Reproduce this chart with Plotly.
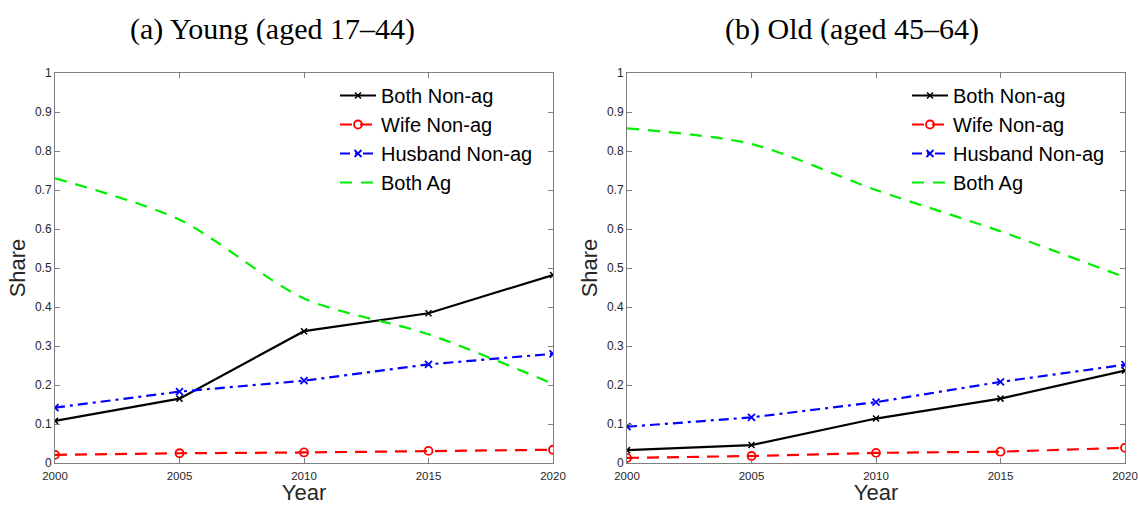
import plotly.graph_objects as go

years = [2000, 2005, 2010, 2015, 2020]

young_both_nonag = [0.108, 0.165, 0.338, 0.384, 0.482]
young_wife_nonag = [0.021, 0.025, 0.027, 0.031, 0.034]
young_husband_nonag = [0.142, 0.183, 0.211, 0.253, 0.280]
young_both_ag = [0.730, 0.624, 0.422, 0.330, 0.203]

old_both_nonag = [0.033, 0.046, 0.114, 0.165, 0.237]
old_wife_nonag = [0.013, 0.018, 0.026, 0.029, 0.039]
old_husband_nonag = [0.093, 0.117, 0.156, 0.208, 0.252]
old_both_ag = [0.858, 0.818, 0.700, 0.594, 0.476]

series_names = ["Both Non-ag", "Wife Non-ag", "Husband Non-ag", "Both Ag"]
y_ticks = [0, 0.1, 0.2, 0.3, 0.4, 0.5, 0.6, 0.7, 0.8, 0.9, 1]
y_ticktext = ["0", "0.1", "0.2", "0.3", "0.4", "0.5", "0.6", "0.7", "0.8", "0.9", "1"]
titles = ["(a) Young (aged 17\u201344)", "(b) Old (aged 45\u201364)"]

W, H = 1138, 505

styles = [
    dict(color="#000000", dash="solid", marker=dict(symbol="x-thin-open", size=6, line=dict(width=1.5, color="#000000")), shape="linear"),
    dict(color="#ff0000", dash="12px,8px", marker=dict(symbol="circle-open", size=8, line=dict(width=1.8, color="#ff0000")), shape="linear"),
    dict(color="#0000ff", dash="10px,5px,3px,5px", marker=dict(symbol="x-thin-open", size=7, line=dict(width=1.8, color="#0000ff")), shape="linear"),
    dict(color="#00ee00", dash="12px,9px", marker=None, shape="spline"),
]

fig = go.Figure()

panels = [
    (young_both_nonag, young_wife_nonag, young_husband_nonag, young_both_ag),
    (old_both_nonag, old_wife_nonag, old_husband_nonag, old_both_ag),
]

px_left = [55, 627]
px_right = [553, 1125]
px_top, px_bottom = 73, 463

for p, data in enumerate(panels):
    xa = "x" if p == 0 else "x2"
    ya = "y" if p == 0 else "y2"
    leg = "legend" if p == 0 else "legend2"
    for i, (name, vals) in enumerate(zip(series_names, data)):
        st = styles[i]
        kw = {}
        if st["marker"] is not None:
            mode = "lines+markers"
            kw["marker"] = st["marker"]
        else:
            mode = "lines"
        fig.add_trace(go.Scatter(
            x=years, y=vals, name=name, mode=mode,
            line=dict(color=st["color"], width=2.2, dash=st["dash"], shape=st["shape"], smoothing=0.8),
            xaxis=xa, yaxis=ya, legend=leg, **kw,
        ))

axis_common = dict(
    showline=True, linecolor="#7f7f7f", linewidth=1, mirror="ticks",
    ticks="inside", ticklen=5, tickcolor="#7f7f7f", showgrid=False, zeroline=False,
    automargin=False,
)

y_dom = [1 - px_bottom / H, 1 - px_top / H]
layout = dict(
    width=W, height=H,
    margin=dict(l=0, r=0, t=0, b=0, autoexpand=False),
    plot_bgcolor="white", paper_bgcolor="white",
    showlegend=True,
)

for p in range(2):
    sfx = "" if p == 0 else "2"
    xd = [px_left[p] / W, px_right[p] / W]
    layout["xaxis" + sfx] = dict(
        domain=xd, range=[2000, 2020], tickvals=years, ticktext=[str(y) for y in years],
        anchor="y" + sfx, ticklabelstandoff=2,
        tickfont=dict(family="Liberation Sans, Arial", size=11.5, color="#262626"),
        title=dict(text="Year", font=dict(family="Liberation Sans, Arial", size=22, color="#262626"), standoff=9),
        **axis_common,
    )
    layout["yaxis" + sfx] = dict(
        domain=y_dom, range=[0, 1], tickvals=y_ticks, ticktext=y_ticktext,
        anchor="x" + sfx,
        tickfont=dict(family="Liberation Sans, Arial", size=12, color="#262626"),
        title=dict(text="Share", font=dict(family="Liberation Sans, Arial", size=22, color="#262626"), standoff=3),
        **axis_common,
    )

for key, lx in (("legend", 343), ("legend2", 915)):
    layout[key] = dict(
        x=(lx - 8) / W, y=1 - 76 / H, xanchor="left", yanchor="top",
        bgcolor="rgba(0,0,0,0)", borderwidth=0,
        font=dict(family="Liberation Sans, Arial", size=20, color="#000000"),
        tracegroupgap=0, itemwidth=36,
    )

layout["annotations"] = [
    dict(text=titles[0], x=272 / W, y=1 - 29 / H, xref="paper", yref="paper",
         showarrow=False, xanchor="center", yanchor="middle",
         font=dict(family="Liberation Serif, Times New Roman, serif", size=30, color="#000000")),
    dict(text=titles[1], x=852 / W, y=1 - 29 / H, xref="paper", yref="paper",
         showarrow=False, xanchor="center", yanchor="middle",
         font=dict(family="Liberation Serif, Times New Roman, serif", size=30, color="#000000")),
]

fig.update_layout(**layout)
fig.write_html("out.html")
